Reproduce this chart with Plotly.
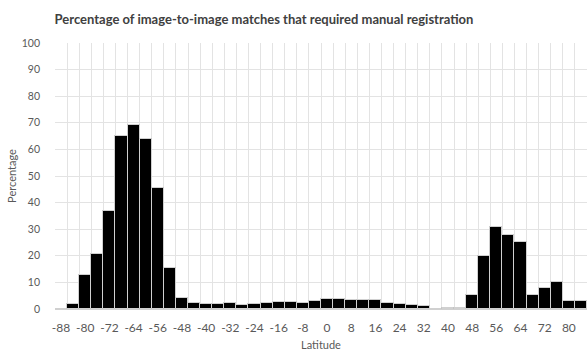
import plotly.graph_objects as go

latitudes = list(range(-88, 88, 4))
percentages = [0, 1.7, 12.6, 20.6, 37, 65, 69, 63.8, 45.5, 15.5,
               4.1, 2.4, 1.7, 1.7, 2.4, 1.5, 1.9, 2.25, 2.75, 2.75,
               2.1, 3.0, 3.6, 3.6, 3.4, 3.4, 3.4, 2.25, 2.0, 1.6,
               1.0, 0, 0.3, 0.3, 5.1, 20.1, 30.75, 28, 25.25, 5.4,
               7.9, 10.1, 3.1, 3.1]
tick_labels = list(range(-88, 88, 8))
y_ticks = list(range(0, 101, 10))

grid = "#e3e3e3"
txt = "#595959"

fig = go.Figure(go.Bar(
    x=latitudes, y=percentages, width=4,
    marker=dict(color="black", line=dict(color="#d0d0d0", width=1)),
))

fig.update_layout(
    width=587, height=351,
    margin=dict(l=55, r=0, t=43, b=42, autoexpand=False),
    plot_bgcolor="white", paper_bgcolor="white",
    font=dict(family="Lato, 'Open Sans', sans-serif", size=11, color=txt),
    bargap=0, showlegend=False,
    title=dict(text="<b>Percentage of image-to-image matches that required manual registration</b>",
               x=264/587, xanchor="center", y=1 - 19/351, yanchor="middle", yref="container",
               font=dict(size=13, color="#404040")),
)
fig.update_xaxes(
    range=[-90, 86], tickvals=tick_labels, ticktext=[str(t) for t in tick_labels],
    showgrid=False, zeroline=False, showline=True, linecolor="#d0d0d0",
    ticks="", ticklabelstandoff=8, automargin=False,
    minor=dict(tick0=-90, dtick=4, showgrid=True, gridcolor=grid, gridwidth=1, ticks=""),
    title=dict(text="Latitude", font=dict(size=11, color=txt), standoff=6),
    tickfont=dict(size=12),
)
fig.update_yaxes(
    range=[0, 100], tickvals=y_ticks, showgrid=True, gridcolor=grid, zeroline=False,
    ticks="", ticklabelstandoff=14, automargin=False,
    title=dict(text="Percentage", font=dict(size=11, color=txt), standoff=2),
    tickfont=dict(size=10.5),
)

fig.write_html("out.html", post_script="document.body.style.margin='0';",
               config={"displayModeBar": False})
